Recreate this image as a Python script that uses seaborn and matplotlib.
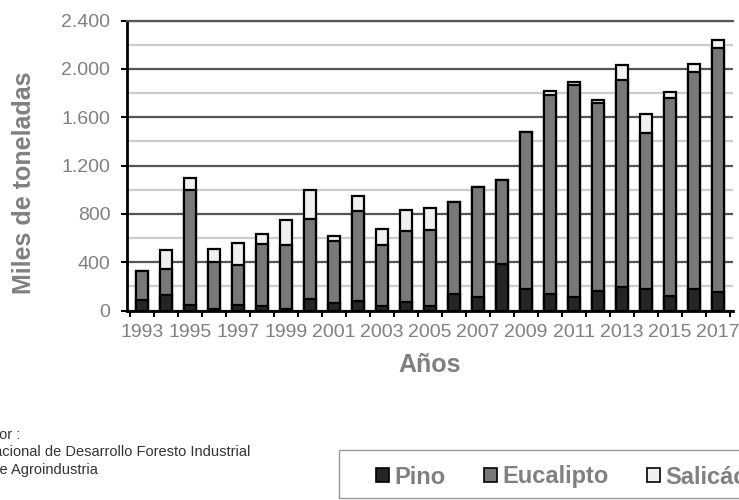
import numpy as np
import pandas as pd
import seaborn as sns
import matplotlib.pyplot as plt
from matplotlib.patches import Patch, Rectangle
from matplotlib.ticker import MultipleLocator

# datos (miles de toneladas)
anios = list(range(1993, 2018))
pino = [90, 125, 45, 15, 45, 35, 15, 95, 60, 75, 35, 70, 35,
        135, 110, 385, 180, 140, 115, 160, 195, 180, 120, 180, 150]
eucalipto = [240, 220, 950, 385, 330, 515, 530, 660, 515, 745, 510, 585, 635,
             760, 915, 695, 1300, 1645, 1750, 1555, 1715, 1290, 1635, 1790, 2025]
salicaceas = [0, 155, 100, 110, 180, 80, 205, 245, 45, 130, 130, 175, 175,
              0, 0, 0, 0, 30, 30, 25, 120, 155, 55, 70, 65]

yticks = [0, 400, 800, 1200, 1600, 2000, 2400]
ytick_labels = ["0", "400", "800", "1.200", "1.600", "2.000", "2.400"]
series = ["Pino", "Eucalipto", "Salicáceas"]
fuente = ["Elaborado por :",
          "Dirección Nacional de Desarrollo Foresto Industrial",
          "Ministerio de Agroindustria"]

c_pino = "#252525"
c_euc = "#787878"
c_sal = "#f0f0f0"
gris = "#808080"

sns.set_style("white")
plt.rcParams["font.family"] = ["Liberation Sans", "DejaVu Sans"]

df = pd.DataFrame({"anio": [str(a) for a in anios],
                   "pino": pino, "eucalipto": eucalipto, "salicaceas": salicaceas})
df["pino_euc"] = df["pino"] + df["eucalipto"]
df["total"] = df["pino_euc"] + df["salicaceas"]

fig = plt.figure(figsize=(7.39, 5), dpi=100)
ax = fig.add_axes([127 / 739, 1 - 310.5 / 500, 606 / 739, 290 / 500])

# barras apiladas: total, luego pino+eucalipto, luego pino
for col, color in [("total", c_sal), ("pino_euc", c_euc), ("pino", c_pino)]:
    sns.barplot(data=df, x="anio", y=col, color=color, edgecolor="black",
                linewidth=1.6, width=0.5, saturation=1, errorbar=None, ax=ax)

ax.set_axisbelow(True)
ax.set_ylim(0, 2400)
ax.set_xlim(-0.625, 24.625)

# eje y
ax.set_yticks(yticks, labels=ytick_labels)
ax.yaxis.set_minor_locator(MultipleLocator(200))
ax.grid(axis="y", which="major", color="#555555", lw=1.6)
ax.grid(axis="y", which="minor", color="#cccccc", lw=1.6)
ax.grid(axis="x", visible=False)
ax.tick_params(axis="y", which="major", length=4, width=1.5, color="black",
               direction="out", pad=8, labelsize=14, labelcolor=gris, left=True)
ax.tick_params(axis="y", which="minor", length=0)

# eje x: marcas entre barras, etiquetas cada dos años
ax.set_xticks(np.arange(-0.5, 25, 1), labels=[""] * 26)
ax.set_xticks(np.arange(0, 25, 2), labels=[str(a) for a in anios[::2]], minor=True)
ax.tick_params(axis="x", which="major", length=4, width=1.5, color="black",
               direction="out", bottom=True)
ax.tick_params(axis="x", which="minor", length=0, pad=10, labelsize=14,
               labelcolor=gris)

for s in ["left", "bottom"]:
    ax.spines[s].set_color("black")
    ax.spines[s].set_linewidth(2)
ax.spines["right"].set_visible(False)
ax.spines["top"].set_color("#555555")
ax.spines["top"].set_linewidth(1.6)

ax.set_xlabel("Años", fontsize=18, fontweight="bold", color=gris)
ax.set_ylabel("Miles de toneladas", fontsize=18, fontweight="bold", color=gris)
ax.xaxis.set_label_coords(0.5, -0.147)
ax.yaxis.set_label_coords(-0.15, 0.44)

# leyenda
handles = [Patch(facecolor=c, edgecolor="black", linewidth=1.2)
           for c in [c_pino, c_euc, c_sal]]
leg = fig.legend(handles, series, loc="center left",
                 bbox_to_anchor=(364 / 739, 1 - 477 / 500), ncol=3,
                 frameon=False, borderpad=0, handlelength=0.55,
                 handleheight=0.55, handletextpad=0.25, columnspacing=1.6,
                 prop={"weight": "bold", "size": 17})
for t in leg.get_texts():
    t.set_color(gris)
fig.patches.append(Rectangle((339 / 739, 2 / 500), 0.6, 48 / 500,
                             transform=fig.transFigure, fill=False,
                             edgecolor="#999999", linewidth=1))

# fuente
for texto, xe, ye in zip(fuente, [20, 250, 98], [435, 452, 470]):
    fig.text(xe / 739, 1 - ye / 500, texto, ha="right", va="center",
             fontsize=10.5, color="#333333",
             family=["Liberation Sans Narrow", "Liberation Sans"])

fig.savefig("out.png", dpi=100)
